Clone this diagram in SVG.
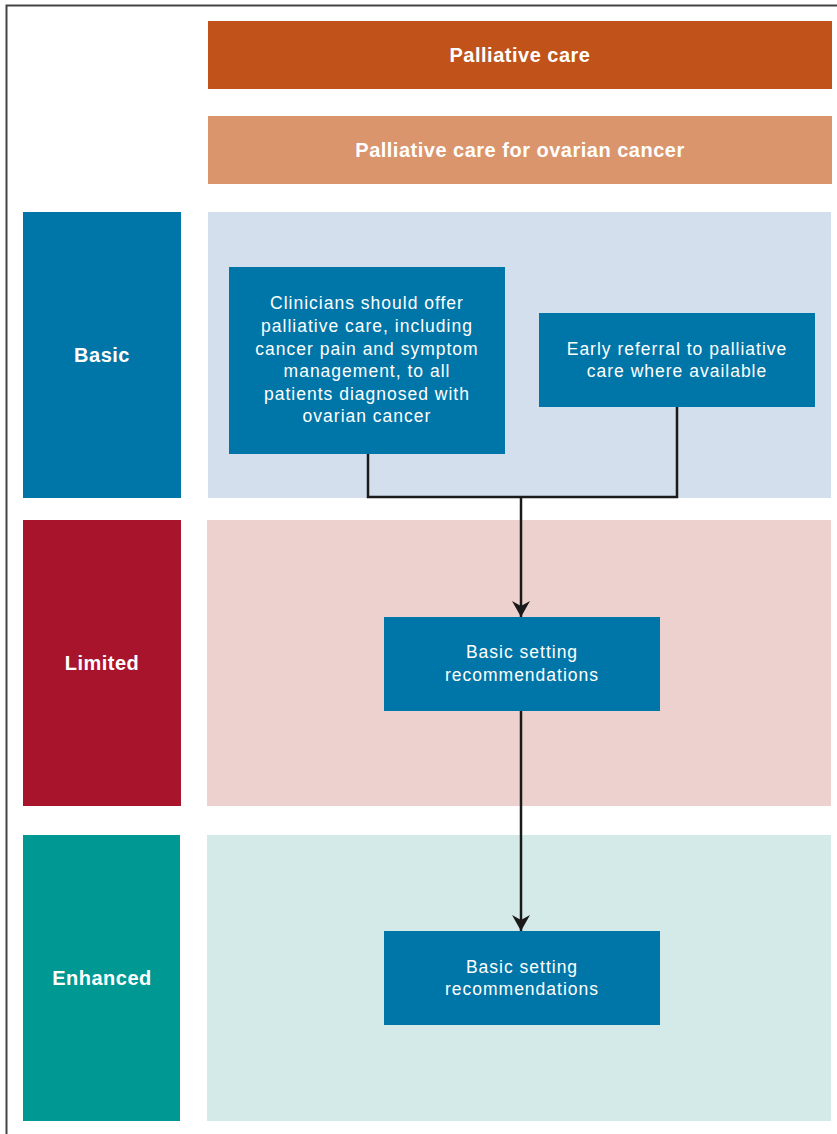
<svg xmlns="http://www.w3.org/2000/svg" width="837" height="1134" viewBox="0 0 837 1134">
<defs>
<style>
.lbl{font-family:"Liberation Sans",Arial,sans-serif;font-weight:bold;font-size:20px;letter-spacing:0.5px;fill:#fff;text-anchor:middle}
.txt{font-family:"Liberation Sans",Arial,sans-serif;font-size:17.5px;letter-spacing:1px;fill:#fff;text-anchor:middle}
.box{fill:#0076A8}
.conn{fill:none;stroke:#1a1a1a;stroke-width:2.5}
</style>
<marker id="arr" markerWidth="16" markerHeight="20" refX="16" refY="9" orient="auto" markerUnits="userSpaceOnUse">
<path d="M0,0 L16,9 L0,18 L5,9 Z" fill="#1a1a1a"/>
</marker>
</defs>
<rect width="837" height="1134" fill="#fff"/>
<path d="M6.5,1134 V5.5 H837" fill="none" stroke="#444" stroke-width="2"/>

<g id="header1"><rect x="208" y="21" width="624" height="68" fill="#C1531A"/><text class="lbl" x="520" y="62">Palliative care</text></g>
<g id="header2"><rect x="208" y="116" width="624" height="68" fill="#DA956C"/><text class="lbl" x="520" y="157">Palliative care for ovarian cancer</text></g>

<g id="panel-basic"><rect x="208" y="212" width="623" height="286" fill="#D3DFEC"/></g>
<g id="panel-limited"><rect x="207" y="520" width="624" height="286" fill="#EDD1CE"/></g>
<g id="panel-enhanced"><rect x="207" y="835" width="624" height="286" fill="#D4EAE8"/></g>

<g id="label-basic"><rect x="23" y="212" width="158" height="286" fill="#0076A8"/><text class="lbl" x="102" y="362">Basic</text></g>
<g id="label-limited"><rect x="23" y="520" width="158" height="286" fill="#A8142C"/><text class="lbl" x="102" y="670">Limited</text></g>
<g id="label-enhanced"><rect x="23" y="835" width="157" height="286" fill="#009892"/><text class="lbl" x="102" y="985">Enhanced</text></g>

<g id="connectors">
<path class="conn" d="M368,454 V497 H677 V407"/>
<path class="conn" d="M521,497 V617" marker-end="url(#arr)"/>
<path class="conn" d="M521,711 V931" marker-end="url(#arr)"/>
</g>

<g id="box-clinicians"><rect class="box" x="229" y="267" width="276" height="187"/>
<text class="txt" x="367" y="309">Clinicians should offer</text>
<text class="txt" x="367" y="332">palliative care, including</text>
<text class="txt" x="367" y="355">cancer pain and symptom</text>
<text class="txt" x="367" y="377">management, to all</text>
<text class="txt" x="367" y="400">patients diagnosed with</text>
<text class="txt" x="367" y="422">ovarian cancer</text>
</g>
<g id="box-early"><rect class="box" x="539" y="313" width="276" height="94"/>
<text class="txt" x="677" y="355">Early referral to palliative</text>
<text class="txt" x="677" y="377">care where available</text>
</g>
<g id="box-limited"><rect class="box" x="384" y="617" width="276" height="94"/>
<text class="txt" x="522" y="658">Basic setting</text>
<text class="txt" x="522" y="681">recommendations</text>
</g>
<g id="box-enhanced"><rect class="box" x="384" y="931" width="276" height="94"/>
<text class="txt" x="522" y="973">Basic setting</text>
<text class="txt" x="522" y="995">recommendations</text>
</g>
</svg>
